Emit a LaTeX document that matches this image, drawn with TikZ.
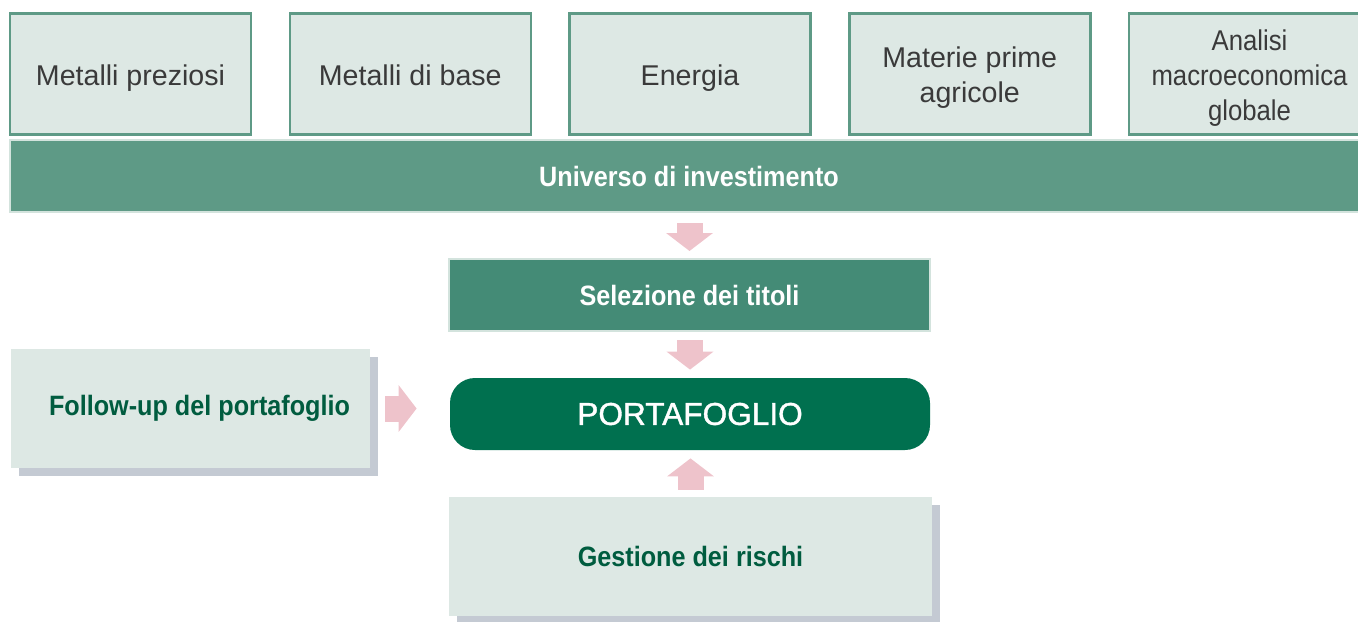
\documentclass[tikz,border=0pt]{standalone}
\usepackage{fontspec}
\setmainfont{Liberation Sans}
\newfontfamily\condbf[FakeStretch=0.9]{Liberation Sans Bold}
\newfontfamily\topnarrow[FakeStretch=0.9]{Liberation Sans}
\newfontfamily\portfont[FakeBold=1.2]{Liberation Sans}
\usetikzlibrary{arrows.meta,shadows}
\definecolor{boxfill}{HTML}{DDE8E4}
\definecolor{boxline}{HTML}{5E9A86}
\definecolor{selfill}{HTML}{448B76}
\definecolor{portfill}{HTML}{00704F}
\definecolor{pinkarrow}{HTML}{EEC3CB}
\definecolor{darkgreen}{HTML}{005C3F}
\definecolor{shadowgray}{HTML}{C4CAD3}
\definecolor{lightedge}{HTML}{D3E3DD}
\definecolor{topgray}{HTML}{3A3A3A}
\tikzset{
  topbox/.style={draw=boxline, line width=1.25pt, fill=boxfill,
    minimum width=120.5pt, minimum height=60.5pt, inner ysep=0pt, align=center,
    text=topgray, font=\fontsize{14.3}{17.5}\selectfont},
  narrow/.style={font=\topnarrow\fontsize{14.3}{17.5}\selectfont},
  bar/.style={fill=#1, draw=lightedge, line width=1pt, text=white,
    minimum height=36pt, font=\condbf\fontsize{14}{17}\selectfont},
  greybox/.style={fill=boxfill, minimum height=59.5pt, text=darkgreen,
    font=\condbf\fontsize{14}{17}\selectfont,
    drop shadow={shadow xshift=4pt, shadow yshift=-4pt, fill=shadowgray, opacity=1}},
  flow/.style={draw=pinkarrow, line width=13pt,
    -{Triangle[width=23pt,length=9pt,color=pinkarrow]}}
}
\begin{document}
\begin{tikzpicture}[x=0.5pt,y=-0.5pt]
  \useasboundingbox (0,0) rectangle (1358,621);
  \clip (0,0) rectangle (1358,621);

  % asset classes
  \foreach \txt/\sty [count=\i] in {Metalli preziosi/topbox, Metalli di base/topbox,
      Energia/topbox, {Materie prime\\agricole}/topbox,
      {Analisi\\macroeconomica\\globale}/narrow}{
    \node[topbox, \sty] (top\i) at ({130.5+279.75*(\i-1)},74)
      {\rule{0pt}{16.25pt}\txt\rule[-5.25pt]{0pt}{5.25pt}};
  }

  \node[bar=boxline, minimum width=679pt] (univ) at (689,176) {Universo di investimento};
  \node[bar=selfill, minimum width=240.5pt] (sel) at (689.5,295) {Selezione dei titoli};
  \node[fill=portfill, rounded corners=12.5pt, minimum width=240pt, minimum height=36pt,
    text=white, font=\portfont\fontsize{15.8}{18}\selectfont] (port) at (690,414) {PORTAFOGLIO};

  \node[greybox, minimum width=179.5pt] (follow) at (190.5,408.5)
    {\hspace*{9pt}Follow-up del portafoglio};
  \node[greybox, minimum width=241.5pt] (gest) at (690.5,556.5) {Gestione dei rischi};

  % arrows
  \draw[flow, shorten <=5pt, shorten >=3.5pt] (univ.south -| sel.north) -- (sel.north);
  \draw[flow, shorten <=4pt, shorten >=4pt] (sel.south -| port.north) -- (port.north);
  \draw[flow, shorten <=3.5pt, shorten >=4pt] (gest.north) -- (gest.north |- port.south);
  \draw[flow, shorten <=7.5pt, shorten >=16.5pt] (follow.east) -- (follow.east -| port.west);
\end{tikzpicture}
\end{document}
